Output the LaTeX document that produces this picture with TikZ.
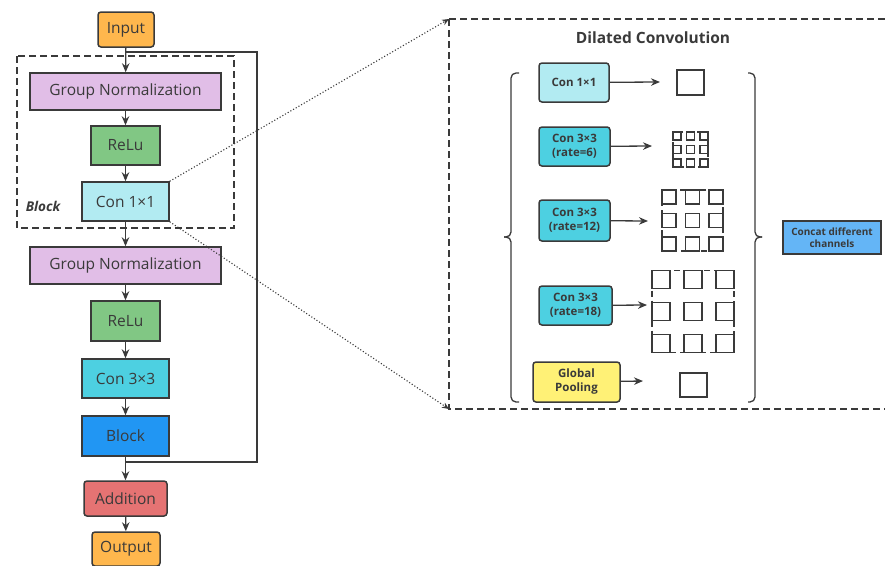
\documentclass[tikz,border=0pt]{standalone}
\usepackage{fontspec}
\setmainfont{Open Sans}
\usetikzlibrary{arrows.meta,positioning,calc}

\definecolor{ink}{HTML}{3A3A3A}
\definecolor{cInput}{HTML}{FFB74D}
\definecolor{cGN}{HTML}{E1BEE7}
\definecolor{cRelu}{HTML}{81C784}
\definecolor{cConA}{HTML}{B2EBF2}
\definecolor{cConB}{HTML}{4DD0E1}
\definecolor{cBlock}{HTML}{2196F3}
\definecolor{cAdd}{HTML}{E57373}
\definecolor{cPool}{HTML}{FFF176}
\definecolor{cConcat}{HTML}{64B5F6}

\tikzset{
  box/.style={draw=ink, line width=1.5pt, text=ink, align=center, inner sep=0pt,
              font=\fontsize{15.5}{18}\selectfont},
  rbox/.style={box, rounded corners=3pt},
  sbox/.style={draw=ink, line width=1.5pt, text=ink, align=center, inner sep=0pt,
               rounded corners=3pt, font=\bfseries\fontsize{11.5}{14}\selectfont},
  flow/.style={draw=ink, line width=1.3pt, -{Stealth[length=9pt,width=7.5pt]}},
  zoomline/.style={draw=ink, line width=1.1pt, dotted, -{Stealth[length=7pt,width=6pt]}},
  cell/.style={draw=ink, line width=1.3pt, fill=white},
  hull/.style={draw=ink, line width=1.3pt, dash pattern=on 6pt off 4pt},
  frame/.style={draw=ink, line width=1.4pt, dash pattern=on 7pt off 4pt}
}

% a 3x3 grid of kernel cells: centre x, centre y, cell size, spacing
\newcommand{\kernelgrid}[4]{%
  \draw[hull] (#1-#4-#3/2, #2-#4-#3/2) rectangle (#1+#4+#3/2, #2+#4+#3/2);
  \foreach \i in {-1,0,1}{
    \foreach \j in {-1,0,1}{
      \draw[cell] (#1+\i*#4-#3/2, #2+\j*#4-#3/2) rectangle ++(#3,#3);
    }
  }%
}

\begin{document}
\begin{tikzpicture}[x=1pt, y=-1pt]
\useasboundingbox (0,0) rectangle (885,565);
\clip (0,0) rectangle (885,565);

% ---------------- main residual column ----------------
\draw[frame] (17,56) rectangle (234,228);
\node[text=ink, font=\bfseries\itshape\fontsize{13.5}{15}\selectfont] (blocklabel) at (43,206) {Block};

\node[rbox, fill=cInput, minimum width=56pt, minimum height=35pt] (input) at (126,29.5) {Input};
\node[box, fill=cGN, minimum width=191pt, minimum height=37pt] (gn1) at (125.5,91.5) {Group Normalization};
\node[box, fill=cRelu, minimum width=69pt, minimum height=39pt] (relu1) at (125.5,145.5) {ReLu};
\node[box, fill=cConA, minimum width=87pt, minimum height=39pt] (con1) at (125.5,201.5) {Con 1×1};
\node[box, fill=cGN, minimum width=191pt, minimum height=37pt] (gn2) at (125.5,265.5) {Group Normalization};
\node[box, fill=cRelu, minimum width=69pt, minimum height=40pt] (relu2) at (125.5,321) {ReLu};
\node[box, fill=cConB, minimum width=87pt, minimum height=39pt] (con3) at (125.5,378.5) {Con 3×3};
\node[box, fill=cBlock, minimum width=87pt, minimum height=40pt] (block) at (125.5,436) {Block};
\node[rbox, fill=cAdd, minimum width=83pt, minimum height=35pt] (add) at (125.5,498.5) {Addition};
\node[rbox, fill=cInput, minimum width=68pt, minimum height=34pt] (output) at (126,549) {Output};

\draw[flow] (input) -- (gn1);
\draw[flow] (gn1) -- (relu1);
\draw[flow] (relu1) -- (con1);
\draw[flow] (con1) -- (gn2);
\draw[flow] (gn2) -- (relu2);
\draw[flow] (relu2) -- (con3);
\draw[flow] (con3) -- (block);
\draw[flow] (block) -- (add);
\draw[flow] (add) -- (output);

% identity shortcut around the branch
\coordinate (skipA) at (125.5,52);
\coordinate (skipB) at (257,52);
\coordinate (skipC) at (257,462);
\coordinate (skipD) at (125.5,462);
\draw[ink, line width=1.3pt] (skipA) -- (skipB) -- (skipC) -- (skipD);

% ---------------- dilated convolution panel ----------------
\coordinate (panelTL) at (449,19);
\coordinate (panelBL) at (449,409);
\draw[frame] (panelTL) -- (900,19);
\draw[frame] (panelTL) -- (panelBL) -- (900,409);

\draw[zoomline] (con1.north east) -- (panelTL);
\draw[zoomline] (con1.south east) -- (panelBL);

\node[text=ink, font=\bfseries\fontsize{15.5}{18}\selectfont] (title) at (653,38) {Dilated Convolution};

% curly braces
\draw[ink, line width=1.3pt, rounded corners=5pt]
  (519,73) -- (511,73) -- (511,237) -- (504,237);
\draw[ink, line width=1.3pt, rounded corners=5pt]
  (504,237) -- (511,237) -- (511,402) -- (519,402);
\draw[ink, line width=1.3pt, rounded corners=5pt]
  (748,73) -- (755,73) -- (755,237) -- (762,237);
\draw[ink, line width=1.3pt, rounded corners=5pt]
  (762,237) -- (755,237) -- (755,402) -- (748,402);

\node[sbox, fill=cConA, minimum width=70pt, minimum height=39pt] (r1) at (574,82.5) {Con 1×1};
\node[sbox, fill=cConB, minimum width=71pt, minimum height=39pt] (r6) at (574.5,146.5) {Con 3×3\\(rate=6)};
\node[sbox, fill=cConB, minimum width=71pt, minimum height=41pt] (r12) at (574.5,220.5) {Con 3×3\\(rate=12)};
\node[sbox, fill=cConB, minimum width=73pt, minimum height=39pt] (r18) at (575.5,305.5) {Con 3×3\\(rate=18)};
\node[sbox, fill=cPool, minimum width=87pt, minimum height=40pt] (gp) at (576.5,382) {Global\\Pooling};
\node[sbox, rounded corners=0pt, fill=cConcat, minimum width=98pt, minimum height=33pt,
      font=\bfseries\fontsize{10}{12.5}\selectfont] (concat) at (832,237.5) {Concat different\\channels};

\coordinate (e1) at (660,82);
\coordinate (e6) at (652,146);
\coordinate (e12) at (648,221);
\coordinate (e18) at (647,305);
\coordinate (egp) at (643,381);
\draw[flow] (r1) -- (e1);
\draw[flow] (r6) -- (e6);
\draw[flow] (r12) -- (e12);
\draw[flow] (r18) -- (e18);
\draw[flow] (gp) -- (egp);

% kernels
\draw[cell] (677,70) rectangle (704,95);
\kernelgrid{690.5}{149.5}{8}{13.5}
\kernelgrid{692.5}{220.5}{14}{23.5}
\kernelgrid{693}{311.5}{18}{32}
\draw[cell] (680,373) rectangle (707,397);
\end{tikzpicture}
\end{document}
